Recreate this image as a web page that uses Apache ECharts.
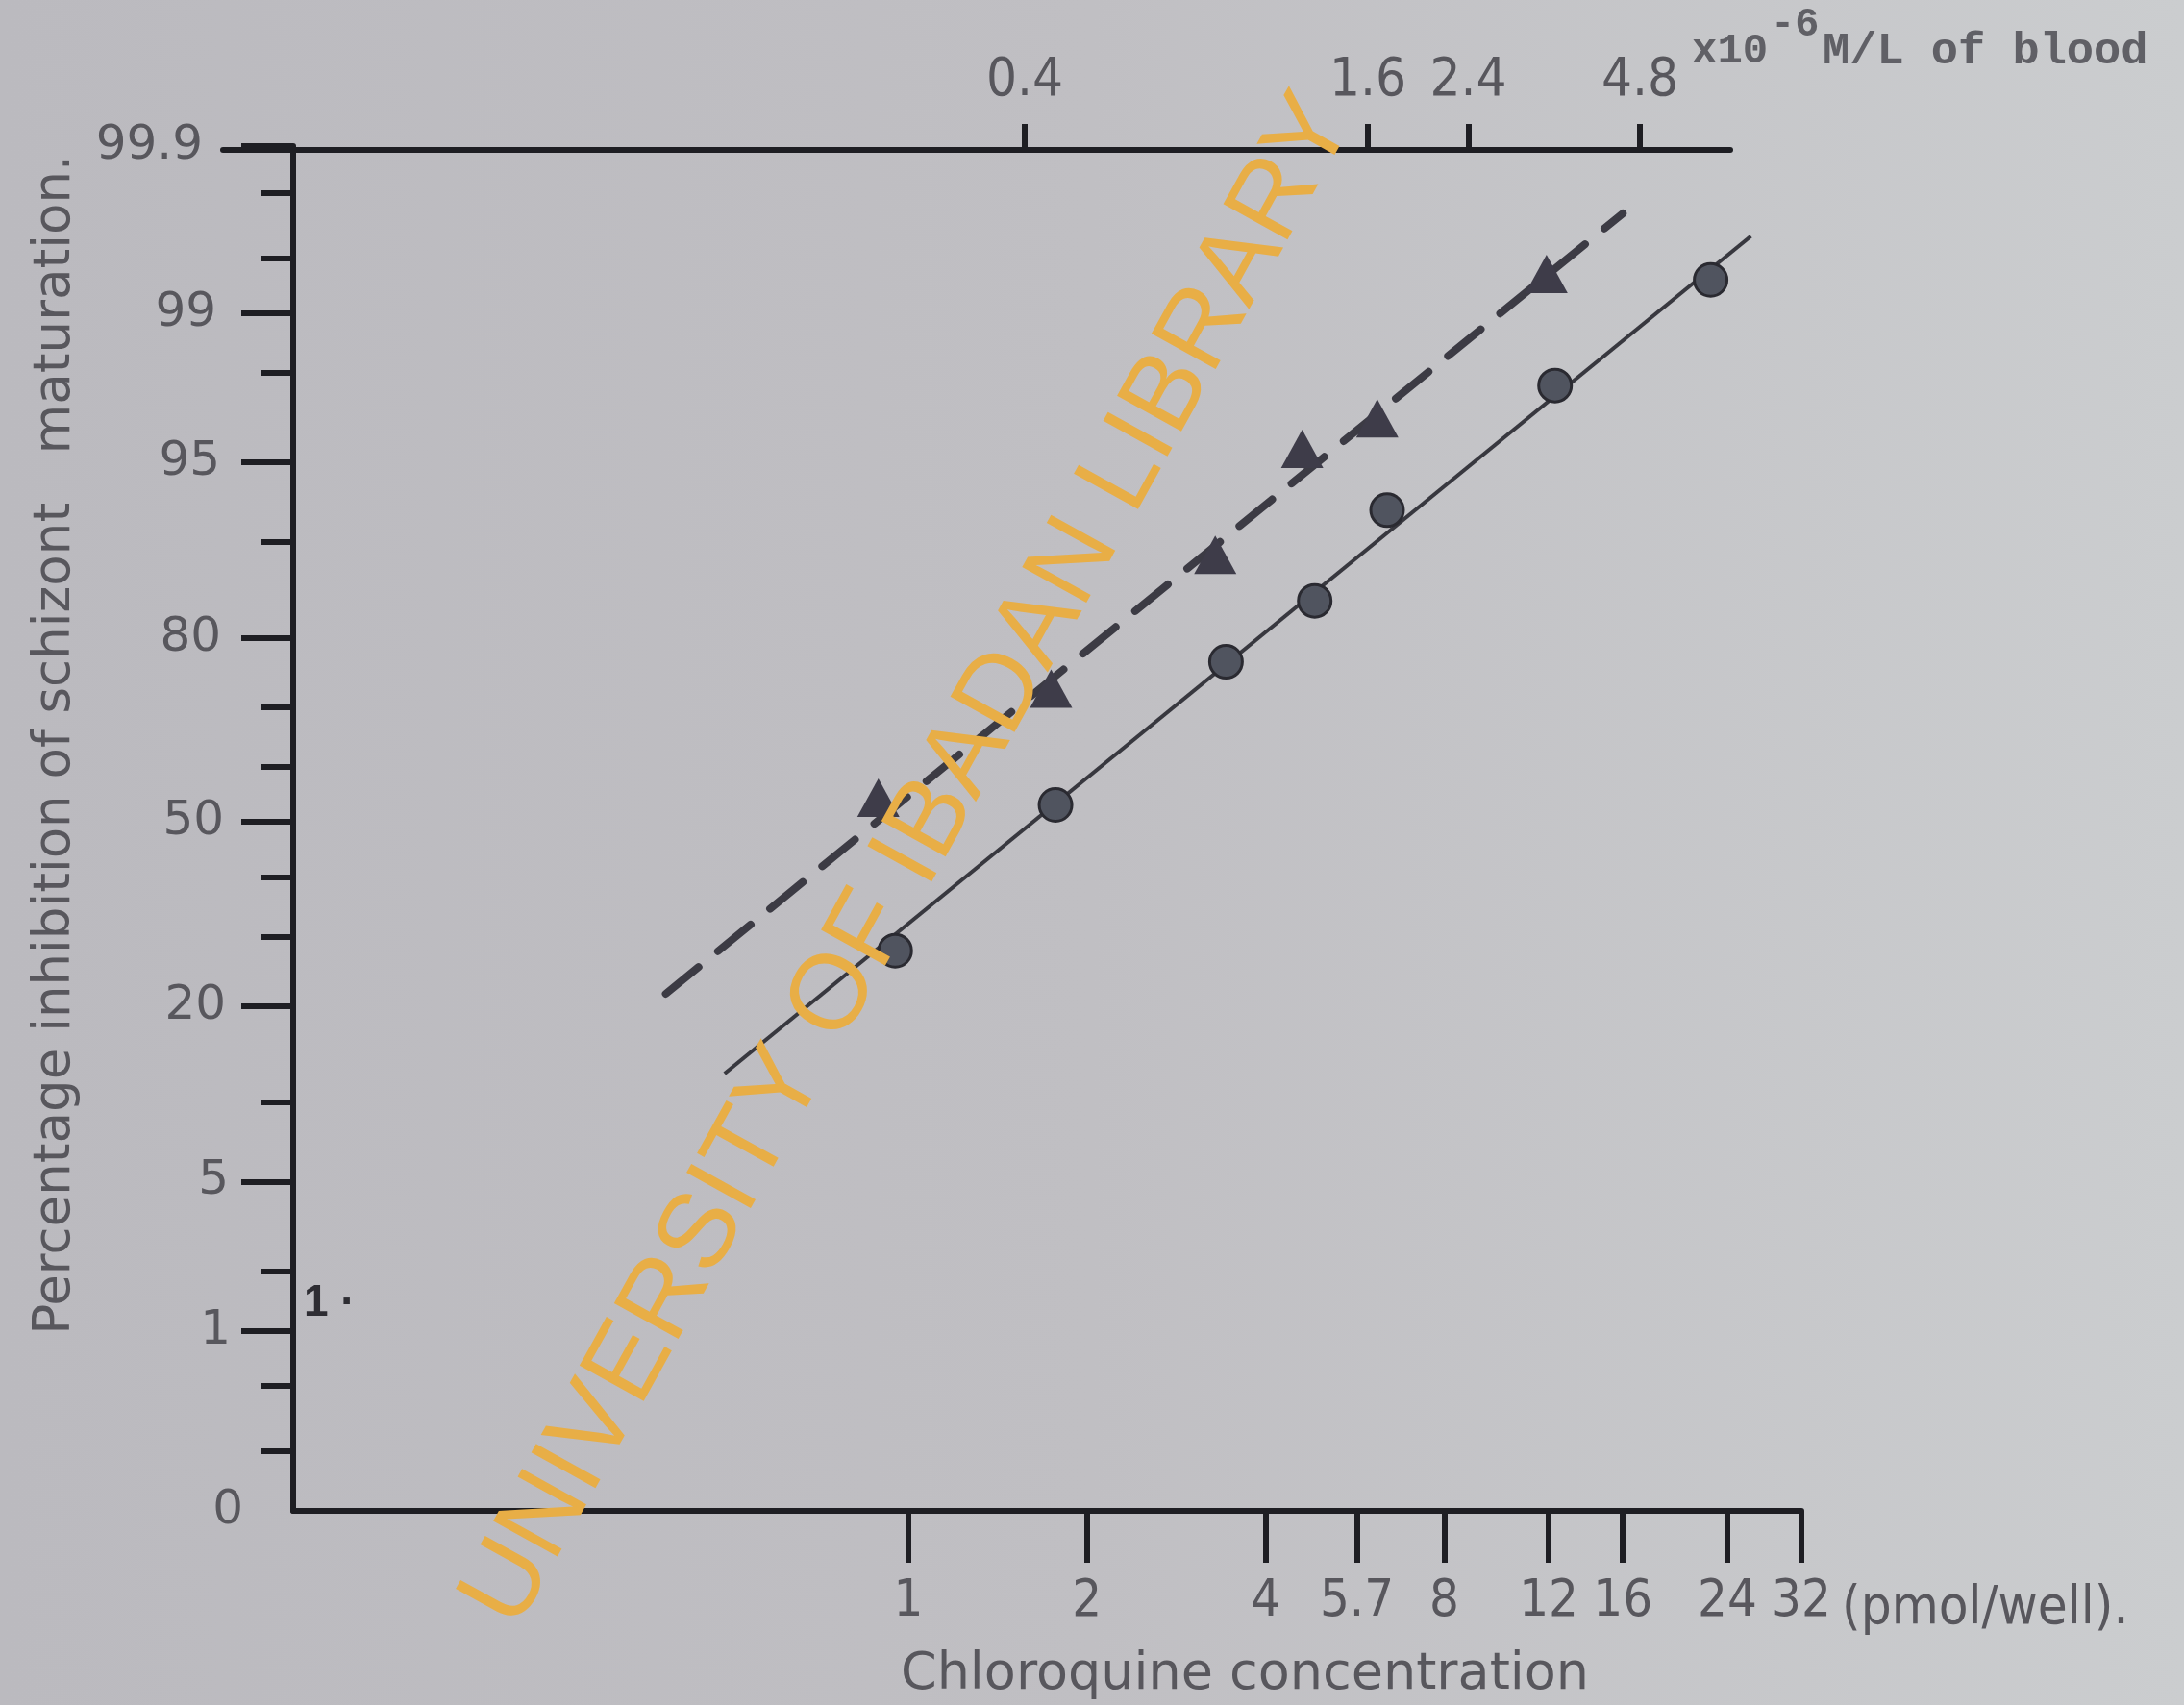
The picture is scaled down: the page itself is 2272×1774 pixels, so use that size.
<!DOCTYPE html>
<html>
<head>
<meta charset="utf-8">
<script src="https://cdn.jsdelivr.net/npm/echarts@6/dist/echarts.min.js"></script>
<style>
  html, body { margin: 0; padding: 0; }
  #chart { width: 2272px; height: 1774px; }
</style>
</head>
<body>
<div id="chart"></div>
<script>
// ---------------- data ----------------
// Chloroquine concentration (pmol/well) and % inhibition of schizont maturation
const circleConc   = [0.95, 1.77, 3.43, 4.84, 6.41, 12.3, 22.5];
const circlePct    = [27.8, 53.1, 76.8, 84.4, 92.3, 97.7, 99.34];
const triangleConc = [0.89, 1.74, 3.29, 4.61, 6.17, 11.9];
const trianglePct  = [54.4, 72.9, 88.9, 95.6, 96.75, 99.39];
// fitted (probit) lines, end points
const solidLineConc  = [0.49, 26.3];
const solidLinePct   = [12.5, 99.63];
const dashedLineConc = [0.39, 16.0];
const dashedLinePct  = [21.6, 99.73];

// tick labels
const xTickValues  = [1, 2, 4, 5.7, 8, 12, 16, 24, 32];
const xTickLabels  = ['1', '2', '4', '5.7', '8', '12', '16', '24', '32'];
const topTickValues = [0.4, 1.6, 2.4, 4.8];
const topTickLabels = ['0.4', '1.6', '2.4', '4.8'];
const yMajorValues = [99.9, 99, 95, 80, 50, 20, 5, 1];
const yMajorLabels = ['99.9', '99', '95', '80', '50', '20', '5', '1'];
const yMinorValues = [99.8, 99.5, 98, 90, 70, 60, 40, 30, 10, 2, 0.5, 0.2];
const yOriginLabel = '0';

// ---------------- probit transform ----------------
function normInv(p) {
  const a = [-3.969683028665376e+01, 2.209460984245205e+02, -2.759285104469687e+02, 1.383577518672690e+02, -3.066479806614716e+01, 2.506628277459239e+00];
  const b = [-5.447609879822406e+01, 1.615858368580409e+02, -1.556989798598866e+02, 6.680131188771972e+01, -1.328068155288572e+01];
  const c = [-7.784894002430293e-03, -3.223964580411365e-01, -2.400758277161838e+00, -2.549671039166500e+00, 4.374664141464968e+00, 2.938163982698783e+00];
  const d = [7.784695709041462e-03, 3.224671290700398e-01, 2.445134137142996e+00, 3.754408661907416e+00];
  const pl = 0.02425, ph = 1 - pl;
  let q, r;
  if (p < pl) {
    q = Math.sqrt(-2 * Math.log(p));
    return (((((c[0]*q+c[1])*q+c[2])*q+c[3])*q+c[4])*q+c[5]) / ((((d[0]*q+d[1])*q+d[2])*q+d[3])*q+1);
  }
  if (p <= ph) {
    q = p - 0.5; r = q * q;
    return (((((a[0]*r+a[1])*r+a[2])*r+a[3])*r+a[4])*r+a[5])*q / (((((b[0]*r+b[1])*r+b[2])*r+b[3])*r+b[4])*r+1);
  }
  q = Math.sqrt(-2 * Math.log(1 - p));
  return -(((((c[0]*q+c[1])*q+c[2])*q+c[3])*q+c[4])*q+c[5]) / ((((d[0]*q+d[1])*q+d[2])*q+d[3])*q+1);
}
const probit = pct => normInv(pct / 100);

const Y_MIN = -3.15;               // axis origin, labelled "0"
const Y_MAX = probit(99.9);

const yMajorZ = yMajorValues.map(probit);
const yLabelZ = yMajorZ.concat([Y_MIN]);
const yLabelText = yMajorLabels.concat([yOriginLabel]);
const yMinorZ = yMinorValues.map(probit);
const xTickL = xTickValues.map(Math.log2);
const topTickL = topTickValues.map(Math.log2);

function lookup(vals, labels) {
  return function (v) {
    for (let i = 0; i < vals.length; i++) if (Math.abs(vals[i] - v) < 1e-6) return labels[i];
    return '';
  };
}
// the hand-drawn left axis leans: labels higher up sit a little further left
const yLabelPad = { '99.9': 42, '99': 28, '95': 24, '80': 23, '50': 20, '20': 18, '5': 15, '1': 13, '0': 0 };
function yLabelFormatter(v) {
  const t = lookup(yLabelZ, yLabelText)(v);
  return t ? '{p' + (yLabelPad[t] || 0) + '|' + t + '}' : '';
}
const yRich = {};
Object.keys(yLabelPad).forEach(k => {
  yRich['p' + yLabelPad[k]] = {
    padding: [0, yLabelPad[k], 0, 0], fontSize: 50,
    fontFamily: '"DejaVu Sans", sans-serif', color: '#58575d'
  };
});

const pts = (cs, ps) => cs.map((c, i) => [Math.log2(c), probit(ps[i])]);

const INK = '#1e1e23';
const LABEL = '#58575d';
const NARROW = '"Liberation Sans Narrow", "DejaVu Sans Condensed", "Liberation Sans", sans-serif';

const chart = echarts.init(document.getElementById('chart'), null, { renderer: 'canvas' });
chart.setOption({
  animation: false,
  backgroundColor: {
    type: 'linear', x: 0, y: 0, x2: 1, y2: 0,
    colorStops: [
      { offset: 0, color: '#bbbabf' },
      { offset: 0.5, color: '#c0bfc3' },
      { offset: 1, color: '#cbcdcf' }
    ]
  },
  grid: [
    { left: 305, right: 398, top: 152, bottom: 202 },
    { left: 232, width: 1568, top: 156, height: 2 }
  ],
  xAxis: [
    {
      type: 'value', gridIndex: 0, position: 'bottom',
      min: -3.4446, max: 5,
      splitLine: { show: false },
      axisLine: { onZero: false, lineStyle: { color: INK, width: 6 } },
      axisTick: { customValues: xTickL, length: 54, lineStyle: { color: INK, width: 6 } },
      axisLabel: {
        customValues: xTickL, formatter: lookup(xTickL, xTickLabels),
        margin: 68, color: LABEL, fontSize: 54, fontFamily: NARROW
      }
    },
    {
      type: 'value', gridIndex: 1, position: 'top',
      min: -5.993, max: 2.789,
      splitLine: { show: false },
      axisLine: { onZero: false, lineStyle: { color: INK, width: 6 } },
      axisTick: { customValues: topTickL, length: 27, lineStyle: { color: INK, width: 6 } },
      axisLabel: {
        customValues: topTickL, formatter: lookup(topTickL, topTickLabels),
        margin: 44, color: LABEL, fontSize: 56, fontFamily: NARROW
      }
    }
  ],
  yAxis: [
    {
      type: 'value', gridIndex: 0, position: 'left',
      min: Y_MIN, max: Y_MAX,
      splitLine: { show: false },
      axisLine: { onZero: false, lineStyle: { color: INK, width: 6 } },
      axisTick: { customValues: yMajorZ, length: 54, lineStyle: { color: INK, width: 6 } },
      axisLabel: {
        customValues: yLabelZ, formatter: yLabelFormatter, rich: yRich,
        margin: 52, color: LABEL, fontSize: 50, fontFamily: '"DejaVu Sans", sans-serif'
      }
    },
    {
      type: 'value', gridIndex: 0, position: 'left', offset: 0,
      min: Y_MIN, max: Y_MAX,
      splitLine: { show: false },
      axisLine: { show: false, onZero: false },
      axisTick: { customValues: yMinorZ, length: 33, lineStyle: { color: INK, width: 6 } },
      axisLabel: { show: false }
    },
    { type: 'value', gridIndex: 1, show: false, min: 0, max: 1 }
  ],
  series: [
    {
      type: 'line', xAxisIndex: 0, yAxisIndex: 0, silent: true,
      data: pts(solidLineConc, solidLinePct), symbol: 'none',
      lineStyle: { color: '#38383f', width: 4 }, z: 2
    },
    {
      type: 'line', xAxisIndex: 0, yAxisIndex: 0, silent: true,
      data: pts(dashedLineConc, dashedLinePct), symbol: 'none',
      lineStyle: { color: '#3c3b44', width: 8, type: [44, 26], cap: 'round' }, z: 2
    },
    {
      type: 'scatter', xAxisIndex: 0, yAxisIndex: 0, silent: true,
      data: pts(circleConc, circlePct), symbol: 'circle', symbolSize: 34,
      itemStyle: { color: '#50545f', borderColor: '#2a2a31', borderWidth: 3, opacity: 1 }, z: 3
    },
    {
      type: 'scatter', xAxisIndex: 0, yAxisIndex: 0, silent: true,
      data: pts(triangleConc, trianglePct), symbol: 'triangle', symbolSize: [44, 40],
      itemStyle: { color: '#3e3c49', opacity: 1 }, z: 3
    }
  ],
  graphic: [
    {
      type: 'text', x: 58, y: 775, rotation: Math.PI / 2, z: 10,
      style: {
        text: 'Percentage inhibition of schizont   maturation.',
        fontSize: 53, fontFamily: '"DejaVu Sans", sans-serif', fill: LABEL,
        align: 'center', verticalAlign: 'middle', textAlign: 'center', textVerticalAlign: 'middle'
      }
    },
    {
      type: 'text', x: 1295, y: 1743, z: 10,
      style: {
        text: 'Chloroquine concentration',
        fontSize: 54, fontFamily: '"DejaVu Sans", sans-serif', fill: LABEL,
        align: 'center', verticalAlign: 'middle', textAlign: 'center', textVerticalAlign: 'middle'
      }
    },
    {
      type: 'text', x: 1916, y: 1674, z: 10,
      style: {
        text: '(pmol/well).',
        fontSize: 56, fontFamily: NARROW, fill: LABEL,
        align: 'left', verticalAlign: 'middle', textAlign: 'left', textVerticalAlign: 'middle'
      }
    },
    {
      type: 'text', x: 1760, y: 54, z: 10,
      style: {
        text: 'x10', fontSize: 44, fontWeight: 'bold', fontFamily: '"Liberation Mono", monospace', fill: '#606066',
        align: 'left', verticalAlign: 'middle', textAlign: 'left', textVerticalAlign: 'middle'
      }
    },
    {
      type: 'text', x: 1842, y: 26, z: 10,
      style: {
        text: '-6', fontSize: 42, fontWeight: 'bold', fontFamily: '"Liberation Mono", monospace', fill: '#606066',
        align: 'left', verticalAlign: 'middle', textAlign: 'left', textVerticalAlign: 'middle'
      }
    },
    {
      type: 'text', x: 1896, y: 54, z: 10,
      style: {
        text: 'M/L of blood', fontSize: 47, fontWeight: 'bold', fontFamily: '"Liberation Mono", monospace', fill: '#606066',
        align: 'left', verticalAlign: 'middle', textAlign: 'left', textVerticalAlign: 'middle'
      }
    },
    {
      type: 'text', x: 316, y: 1356, z: 10,
      style: {
        text: '1 ·', fontSize: 46, fontWeight: 'bold', fontFamily: '"Liberation Sans", sans-serif', fill: '#2e2d33',
        align: 'left', verticalAlign: 'middle', textAlign: 'left', textVerticalAlign: 'middle'
      }
    },
    {
      type: 'text', x: 946, y: 896, rotation: 61 * Math.PI / 180, z: 100,
      style: {
        text: 'UNIVERSITY OF IBADAN LIBRARY',
        fontSize: 111, fontFamily: '"Liberation Sans", Arial, sans-serif', fill: '#e8ae46',
        align: 'center', verticalAlign: 'middle', textAlign: 'center', textVerticalAlign: 'middle'
      }
    }
  ]
});
</script>
</body>
</html>
